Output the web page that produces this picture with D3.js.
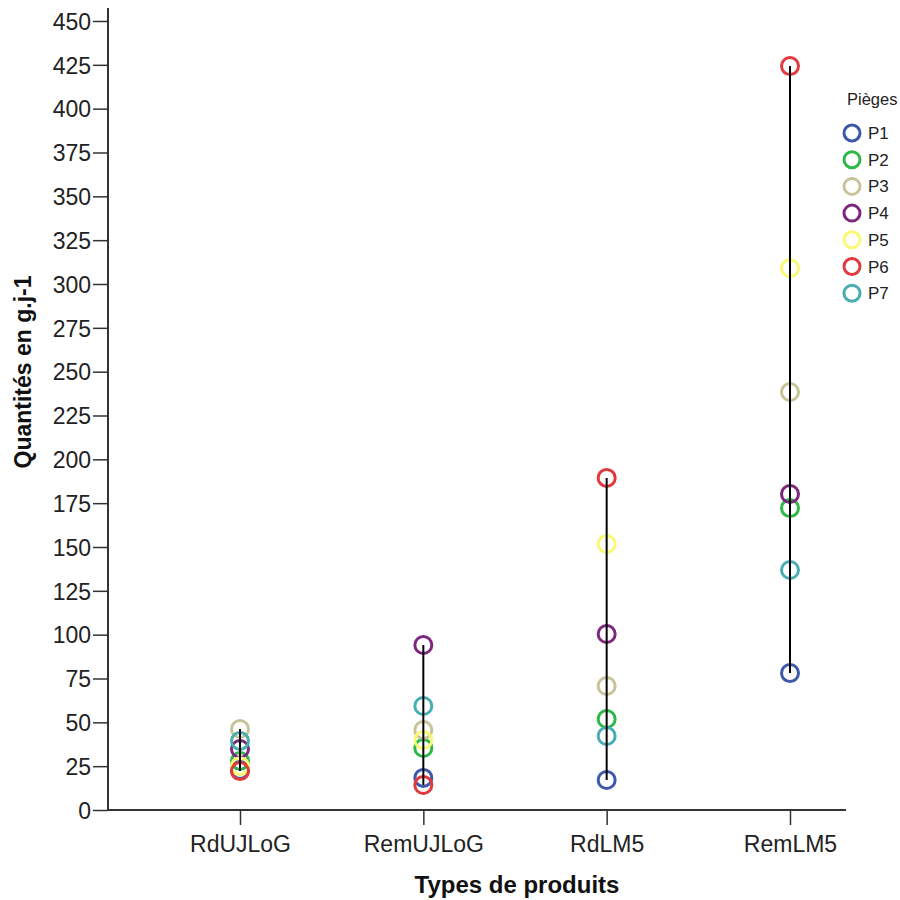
<!DOCTYPE html>
<html>
<head>
<meta charset="utf-8">
<script src="https://cdn.jsdelivr.net/npm/d3@7"></script>
<style>
  body { margin: 0; background: #fff; }
  svg text { font-family: "Liberation Sans", Arial, sans-serif; }
</style>
</head>
<body>
<div id="chart"></div>
<script>
// categories and series
var products = ["RdUJLoG", "RemUJLoG", "RdLM5", "RemLM5"];
var traps = ["P1", "P2", "P3", "P4", "P5", "P6", "P7"];
var trapColors = ["#3E58AC", "#2EB848", "#C9C39A", "#7C287D", "#FBF873", "#E0393E", "#48AEB2"];

// values per trap, one per product (g.j-1)
var P1 = [22.8, 18.3, 17.1, 78.1];
var P2 = [28.0, 35.4, 51.9, 172.2];
var P3 = [46.2, 45.6, 70.7, 238.4];
var P4 = [34.8, 94.1, 100.4, 180.2];
var P5 = [25.0, 39.9, 151.7, 309.0];
var P6 = [22.2, 14.3, 189.4, 424.3];
var P7 = [39.4, 59.3, 42.2, 136.9];
var series = [P1, P2, P3, P4, P5, P6, P7];

var yTicks = d3.range(0, 451, 25);

function main() {
    var width = 900, height = 900;

    var svg = d3.select("#chart").append("svg")
        .attr("width", width)
        .attr("height", height);

    var axisLeftX = 108, axisRightX = 846;

    var y = d3.scaleLinear()
        .domain([0, 450])
        .range([810, 21]);

    var x = d3.scalePoint()
        .domain(products)
        .range([240, 790]);

    // y axis
    var yAxis = svg.append("g")
        .attr("transform", "translate(" + axisLeftX + ",0)")
        .call(d3.axisLeft(y).tickValues(yTicks).tickSize(15).tickSizeOuter(0).tickPadding(2));
    yAxis.select(".domain")
        .attr("d", "M0," + y(0) + "V8")
        .attr("stroke", "#333").attr("stroke-width", 2);
    yAxis.selectAll(".tick line").attr("stroke", "#333").attr("stroke-width", 1.5);
    yAxis.selectAll(".tick text")
        .attr("font-size", 23)
        .attr("dy", "0.36em")
        .attr("fill", "#222");

    // x axis
    var xAxis = svg.append("g")
        .attr("transform", "translate(0," + y(0) + ")")
        .call(d3.axisBottom(x).tickSize(15).tickSizeOuter(0));
    xAxis.select(".domain")
        .attr("d", "M" + axisLeftX + ",0H" + axisRightX)
        .attr("stroke", "#333").attr("stroke-width", 2);
    xAxis.selectAll(".tick line").attr("stroke", "#333").attr("stroke-width", 1.5);
    xAxis.selectAll(".tick text")
        .attr("font-size", 23)
        .attr("y", 42)
        .attr("dy", null)
        .attr("fill", "#222");

    // axis titles
    svg.append("text")
        .attr("x", 517)
        .attr("y", 893)
        .attr("text-anchor", "middle")
        .attr("font-size", 24)
        .attr("font-weight", "bold")
        .attr("fill", "#111")
        .text("Types de produits");

    svg.append("text")
        .attr("transform", "translate(31," + 372 + ") rotate(-90)")
        .attr("text-anchor", "middle")
        .attr("font-size", 23)
        .attr("font-weight", "bold")
        .attr("fill", "#111")
        .text("Quantités en g.j-1");

    // points
    series.forEach(function (vals, i) {
        svg.append("g")
            .selectAll("circle")
            .data(vals)
            .join("circle")
            .attr("cx", function (d, j) { return x(products[j]); })
            .attr("cy", function (d) { return y(d); })
            .attr("r", 8.5)
            .attr("fill", "none")
            .attr("stroke", trapColors[i])
            .attr("stroke-width", 3);
    });

    // high-low lines
    var ranges = products.map(function (p, j) {
        var v = series.map(function (s) { return s[j]; });
        return { product: p, lo: d3.min(v), hi: d3.max(v) };
    });
    svg.append("g")
        .selectAll("line")
        .data(ranges)
        .join("line")
        .attr("x1", function (d) { return x(d.product); })
        .attr("x2", function (d) { return x(d.product); })
        .attr("y1", function (d) { return y(d.lo); })
        .attr("y2", function (d) { return y(d.hi); })
        .attr("stroke", "#000")
        .attr("stroke-width", 2);

    // legend
    var legend = svg.append("g").attr("transform", "translate(834,0)");
    legend.append("text")
        .attr("x", 13)
        .attr("y", 105)
        .attr("font-size", 16.5)
        .attr("fill", "#222")
        .text("Pièges");
    var items = legend.selectAll(".item")
        .data(traps)
        .join("g")
        .attr("transform", function (d, i) { return "translate(0," + (133 + i * 26.7) + ")"; });
    items.append("circle")
        .attr("cx", 18)
        .attr("cy", 0)
        .attr("r", 8)
        .attr("fill", "none")
        .attr("stroke", function (d, i) { return trapColors[i]; })
        .attr("stroke-width", 3);
    items.append("text")
        .attr("x", 34)
        .attr("y", 6)
        .attr("font-size", 17)
        .attr("fill", "#222")
        .text(function (d) { return d; });
}

main();
</script>
</body>
</html>
